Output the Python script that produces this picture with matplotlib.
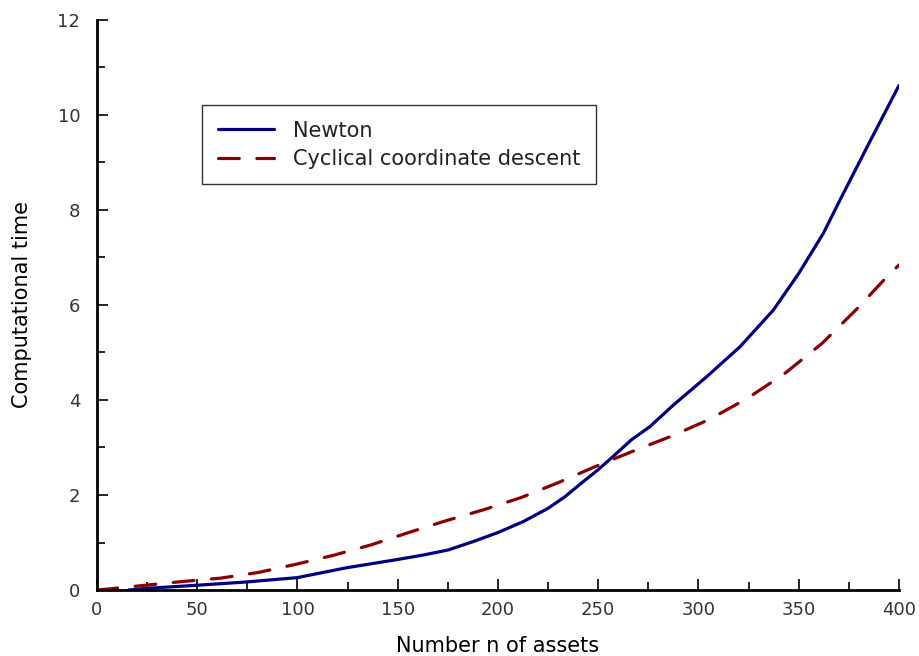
import matplotlib
matplotlib.use("Agg")
import matplotlib.pyplot as plt
from matplotlib.ticker import MultipleLocator

newton_x = [15.8, 24.9, 49.9, 74.8, 99.8, 124.7, 149.6, 162.8, 175.1, 187.7, 200, 212.6, 225, 233.3,
            241.6, 249.9, 258.2, 266.5, 275.8, 287.4, 304.1, 320.7, 337.3, 350.1, 362.3, 370.6, 385, 400]
newton_y = [0.0, 0.035, 0.1, 0.17, 0.26, 0.47, 0.64, 0.737, 0.842, 1.02, 1.21, 1.44, 1.72, 1.96,
            2.25, 2.53, 2.84, 3.16, 3.44, 3.89, 4.49, 5.12, 5.89, 6.67, 7.51, 8.21, 9.4, 10.62]

ccd_x = [0, 5.3, 24.1, 43, 61.7, 80.5, 99.1, 117.9, 136.7, 155.5, 174.2, 192.9, 211.8, 230.6,
         249.2, 267.8, 286.6, 305.4, 324.2, 342.8, 361.6, 379.1, 395, 400]
ccd_y = [0.0, 0.02, 0.1, 0.18, 0.25, 0.37, 0.54, 0.73, 0.95, 1.21, 1.46, 1.69, 1.95, 2.27,
         2.61, 2.93, 3.24, 3.59, 4.03, 4.55, 5.19, 5.92, 6.64, 6.84]

xticks = [0, 50, 100, 150, 200, 250, 300, 350, 400]
yticks = [0, 2, 4, 6, 8, 10, 12]

plt.rcParams['font.family'] = ['DejaVu Sans']
fig = plt.figure(figsize=(9.19, 6.56), dpi=100)
ax = fig.add_axes([0.1055, 0.1006, 0.8727, 0.869])

ax.plot(newton_x, newton_y, color='#000080', lw=2.3, label='Newton',
        solid_capstyle='round', solid_joinstyle='round')
ax.plot(ccd_x, ccd_y, color='#8B0000', lw=2.3, dashes=(6.5, 5.5), label='Cyclical coordinate descent',
        dash_capstyle='round', dash_joinstyle='round')

ax.set_xlim(0, 400)
ax.set_ylim(0, 12)
ax.set_xticks(xticks)
ax.set_yticks(yticks)
ax.xaxis.set_minor_locator(MultipleLocator(25))
ax.yaxis.set_minor_locator(MultipleLocator(1))
ax.tick_params(which='both', direction='in', width=1.2, labelsize=13, colors='black', labelcolor='#333333')
ax.tick_params(which='major', length=8, pad=8)
ax.tick_params(which='minor', length=6)
ax.tick_params(axis='y', pad=12)
for s in ['top', 'right']:
    ax.spines[s].set_visible(False)
for s in ['left', 'bottom']:
    ax.spines[s].set_linewidth(2)

ax.set_xlabel('Number n of assets', fontsize=15, labelpad=12)
ax.set_ylabel('Computational time', fontsize=15, labelpad=18)

leg = ax.legend(loc='upper left', bbox_to_anchor=(0.131, 0.851), borderaxespad=0, fontsize=15,
                frameon=True, fancybox=False, edgecolor='black', handlelength=2.7, borderpad=0.75,
                labelspacing=0.4, handletextpad=0.9)
leg.get_frame().set_linewidth(1.0)
for t in leg.get_texts():
    t.set_color('#222222')

fig.savefig('out.png', dpi=100)
